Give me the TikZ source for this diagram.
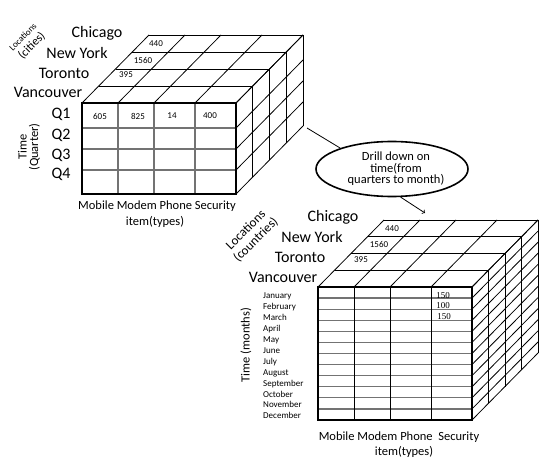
\documentclass[tikz,border=0pt]{standalone}
\usepackage{fontspec}
\setmainfont{Carlito}
\newfontfamily\numfont{Liberation Serif}
\usetikzlibrary{shapes.geometric}

\begin{document}
\begin{tikzpicture}[x=1pt, y=-1pt,
  city/.style={font=\fontsize{16}{16}\selectfont, inner sep=1pt},
  axis/.style={font=\fontsize{12.5}{12.5}\selectfont, inner sep=1pt},
  val/.style={font=\fontsize{9}{9}\selectfont, inner sep=1pt},
  month/.style={font=\fontsize{9}{10.9}\selectfont, anchor=north west, inner sep=0pt},
  edge/.style={line width=0.8pt},
  frame/.style={line width=2pt},
  inner/.style={line width=1.3pt, black!55}]

  \useasboundingbox (0,0) rectangle (548,465);

  % Cube 1: top and right faces
  \foreach \d in {1,...,4}
    \draw[edge] (82+16.75*\d, 103-17*\d) -- (236+16.75*\d, 103-17*\d)
      -- (236+16.75*\d, 194-17*\d);
  \foreach \c in {82,118,154,195,236}
    \draw[edge] (\c,103) -- ++(67,-68);
  \foreach \r in {103,128,149,170,194}
    \draw[edge] (236,\r) -- ++(67,-68);

  % Cube 1: front face
  \foreach \c in {118,154,195} \draw[inner] (\c,103) -- (\c,194);
  \foreach \r in {128,149,170} \draw[inner] (82,\r) -- (236,\r);
  \draw[frame] (82,103) rectangle (236,194);

  % Cube 1: labels
  \node[city] (chi1) at (97,33) {Chicago};
  \node[city] (ny1) at (77,53) {New York};
  \node[city] (tor1) at (64,73) {Toronto};
  \node[city] (van1) at (48,92) {Vancouver};
  \node[rotate=45, align=center, inner sep=0pt] (loc1) at (28,42)
    {\fontsize{9}{9}\selectfont Locations\\[1pt]\fontsize{12}{12}\selectfont (cities)};
  \node[city] (q1) at (61,114) {Q1};
  \node[city] (q2) at (61,135) {Q2};
  \node[city] (q3) at (61,155) {Q3};
  \node[city] (q4) at (61,174) {Q4};
  \node[axis, rotate=90, align=center] (time1) at (29,147) {Time\\[-1pt](Quarter)};
  \node[axis] (items1) at (157,206) {Mobile Modem Phone Security};
  \node[axis] (types1) at (155,222) {item(types)};

  \node[val] (v440a) at (156,44) {440};
  \node[val] (v1560a) at (143,60) {1560};
  \node[val] (v395a) at (126,75) {395};
  \node[val] (v605) at (100,116) {605};
  \node[val] (v825) at (138,116) {825};
  \node[val] (v14) at (172,116) {14};
  \node[val] (v400) at (210,116) {400};

  % Drill down
  \node[ellipse, draw, line width=1.6pt, minimum width=152, minimum height=55] (drill) at (392,169) {};
  \node[axis, align=center, inner sep=0pt] (drilltext) at (396,169)
    {Drill down on\\[-1pt]time(from\\[-1pt]quarters to month)};
  \coordinate (c1out) at (307,128);
  \coordinate (c2in) at (425,213);
  \draw[edge] (c1out) -- (drill.158);
  \draw[edge, ->] (drill.-73) -- (c2in);

  % Cube 2: top and right faces
  \foreach \d in {1,...,4}
    \draw[edge] (318+16.5*\d, 287-16.75*\d) -- (472+16.5*\d, 287-16.75*\d)
      -- (472+16.5*\d, 420-16.75*\d);
  \foreach \c in {318,354,390,431,472}
    \draw[edge] (\c,287) -- ++(66,-67);
  \foreach \k in {0,...,12}
    \draw[edge] (472,287+133/12*\k) -- ++(66,-67);

  % Cube 2: front face
  \foreach \k in {1,...,11} \draw[inner] (318,287+133/12*\k) -- (472,287+133/12*\k);
  \foreach \c in {354,390,431} \draw[line width=1pt] (\c,287) -- (\c,420);
  \draw[frame] (318,287) rectangle (472,420);

  % Cube 2: labels
  \node[city] (chi2) at (333,217) {Chicago};
  \node[city] (ny2) at (312,237) {New York};
  \node[city] (tor2) at (300,257) {Toronto};
  \node[city] (van2) at (283,277) {Vancouver};
  \node[rotate=45, align=center, inner sep=0pt, font=\fontsize{13}{14}\selectfont] (loc2) at (251,235)
    {Locations\\(countries)};
  \node[axis, rotate=90] (time2) at (246,345) {Time (months)};
  \node[month, align=left] (months) at (263,293) {January\\February\\March\\April\\May\\June\\July\\
    August\\September\\October\\November\\December};
  \node[axis] (items2) at (399,437) {Mobile Modem Phone\ \ Security};
  \node[axis] (types2) at (404,452) {item(types)};

  \node[val] (v440b) at (392,229) {440};
  \node[val] (v1560b) at (379,244) {1560};
  \node[val] (v395b) at (361,260) {395};
  \node[val, align=center, font=\numfont\fontsize{9}{10.5}\selectfont] (v150) at (443,306) {150\\100\\\ 150};
\end{tikzpicture}
\end{document}
